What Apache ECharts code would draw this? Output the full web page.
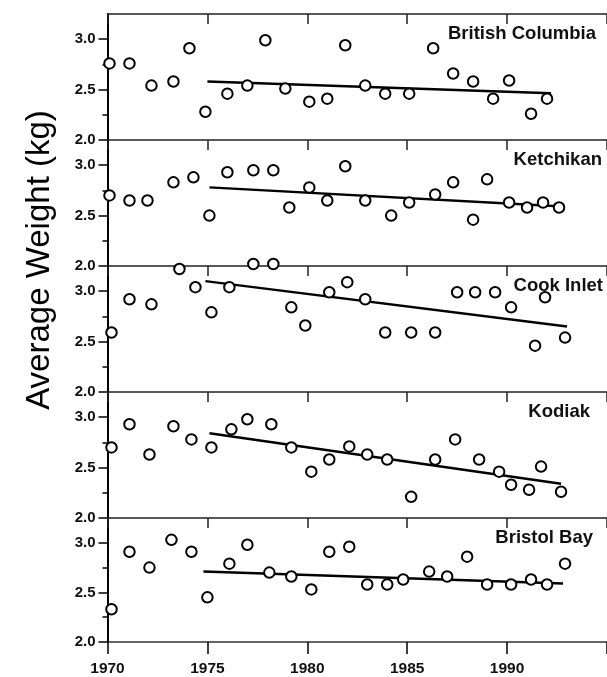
<!DOCTYPE html>
<html>
<head>
<meta charset="utf-8">
<script src="https://cdn.jsdelivr.net/npm/echarts@6/dist/echarts.min.js"></script>
<style>
html,body{margin:0;padding:0;background:#fff;}
#chart{width:607px;height:677px;}
</style>
</head>
<body>
<div id="chart"></div>
<script>
// ---- data ----
const panelNames = ["British Columbia", "Ketchikan", "Cook Inlet", "Kodiak", "Bristol Bay"];
const yearTicks = [1970, 1975, 1980, 1985, 1990];
const weightTicks = [2.0, 2.5, 3.0];
const weightMinorTicks = [2.25, 2.75];

const bcYears = [1970.1,1971.1,1972.2,1973.3,1974.1,1974.9,1976.0,1977.0,1977.9,1978.9,1980.1,1981.0,1981.9,1982.9,1983.9,1985.1,1986.3,1987.3,1988.3,1989.3,1990.1,1991.2,1992.0];
const bcWeights = [2.76,2.76,2.54,2.58,2.91,2.28,2.46,2.54,2.99,2.51,2.38,2.41,2.94,2.54,2.46,2.46,2.91,2.66,2.58,2.41,2.59,2.26,2.41];
const bcTrendYears = [1975.0, 1992.2];
const bcTrendWeights = [2.58, 2.465];

const ketYears = [1970.1,1971.1,1972.0,1973.3,1974.3,1975.1,1976.0,1977.3,1978.3,1979.1,1980.1,1981.0,1981.9,1982.9,1984.2,1985.1,1986.4,1987.3,1988.3,1989.0,1990.1,1991.0,1991.8,1992.6];
const ketWeights = [2.70,2.65,2.65,2.83,2.88,2.50,2.93,2.95,2.95,2.58,2.78,2.65,2.99,2.65,2.50,2.63,2.71,2.83,2.46,2.86,2.63,2.58,2.63,2.58];
const ketTrendYears = [1975.1, 1992.8];
const ketTrendWeights = [2.78, 2.59];

const cookYears = [1970.2,1971.1,1972.2,1973.6,1974.4,1975.2,1976.1,1977.3,1978.3,1979.2,1979.9,1981.1,1982.0,1982.9,1983.9,1985.2,1986.4,1987.5,1988.4,1989.4,1990.2,1991.4,1991.9,1992.9];
const cookWeights = [2.59,2.92,2.87,3.22,3.04,2.79,3.04,3.27,3.27,2.84,2.66,2.99,3.09,2.92,2.59,2.59,2.59,2.99,2.99,2.99,2.84,2.46,2.94,2.54];
const cookTrendYears = [1974.9, 1993.0];
const cookTrendWeights = [3.10, 2.65];

const kodYears = [1970.2,1971.1,1972.1,1973.3,1974.2,1975.2,1976.2,1977.0,1978.2,1979.2,1980.2,1981.1,1982.1,1983.0,1984.0,1985.2,1986.4,1987.4,1988.6,1989.6,1990.2,1991.1,1991.7,1992.7];
const kodWeights = [2.70,2.93,2.63,2.91,2.78,2.70,2.88,2.98,2.93,2.70,2.46,2.58,2.71,2.63,2.58,2.21,2.58,2.78,2.58,2.46,2.33,2.28,2.51,2.26];
const kodTrendYears = [1975.1, 1992.7];
const kodTrendWeights = [2.84, 2.34];

const bbYears = [1970.2,1971.1,1972.1,1973.2,1974.2,1975.0,1976.1,1977.0,1978.1,1979.2,1980.2,1981.1,1982.1,1983.0,1984.0,1984.8,1986.1,1987.0,1988.0,1989.0,1990.2,1991.2,1992.0,1992.9];
const bbWeights = [2.33,2.91,2.75,3.03,2.91,2.45,2.79,2.98,2.70,2.66,2.53,2.91,2.96,2.58,2.58,2.63,2.71,2.66,2.86,2.58,2.58,2.63,2.58,2.79];
const bbTrendYears = [1974.8, 1992.8];
const bbTrendWeights = [2.71, 2.59];

const pointsYears = [bcYears, ketYears, cookYears, kodYears, bbYears];
const pointsWeights = [bcWeights, ketWeights, cookWeights, kodWeights, bbWeights];
const trendYears = [bcTrendYears, ketTrendYears, cookTrendYears, kodTrendYears, bbTrendYears];
const trendWeights = [bcTrendWeights, ketTrendWeights, cookTrendWeights, kodTrendWeights, bbTrendWeights];

// ---- layout ----
const FONT = '"Liberation Sans", Arial, Helvetica, sans-serif';
const panelTop0 = 14, panelH = 126, gridLeft = 107.5;
const nameRightEdges = [596, 602, 603, 590, 593];

const chart = echarts.init(document.getElementById('chart'), null, {renderer: 'canvas'});

const grids = [], xAxes = [], yAxes = [], series = [], titles = [];
const zip = (a, b) => a.map((v, i) => [v, b[i]]);

for (let i = 0; i < 5; i++) {
  const top = panelTop0 + i * panelH;
  grids.push({left: gridLeft, right: 0, top: top, height: panelH, containLabel: false});
  // top boundary axis of the panel (ticks pointing down inside)
  xAxes.push({
    gridIndex: i, type: 'value', position: 'top', min: 1970, max: 1995, interval: 5,
    axisLine: {show: true, lineStyle: {color: '#222', width: 1.5}},
    axisTick: {show: true, inside: true, length: 10, lineStyle: {color: '#222', width: 1.5}},
    axisLabel: {show: false}, splitLine: {show: false}
  });
  // major y-axis
  yAxes.push({
    gridIndex: i, type: 'value', min: 2.0, max: 3.25, position: 'left',
    axisLine: {show: true, onZero: false, lineStyle: {color: '#000', width: 2}},
    axisTick: {show: true, length: 9, customValues: weightTicks, lineStyle: {color: '#000', width: 1.5}},
    axisLabel: {show: true, margin: 12, customValues: weightTicks,
      formatter: v => Number(v).toFixed(1),
      fontFamily: FONT, fontWeight: 'bold', fontSize: 15, color: '#111'},
    splitLine: {show: false}
  });
  // minor ticks
  yAxes.push({
    gridIndex: i, type: 'value', min: 2.0, max: 3.25, position: 'left',
    axisLine: {show: false},
    axisTick: {show: true, length: 5, customValues: weightMinorTicks, lineStyle: {color: '#000', width: 1.5}},
    axisLabel: {show: false}, splitLine: {show: false}
  });
  titles.push({
    text: panelNames[i], right: 607 - nameRightEdges[i], top: top + 10, padding: 0,
    textStyle: {fontFamily: FONT, fontWeight: 'bold', fontSize: 18.5, color: '#111'}
  });
  series.push({
    type: 'line', xAxisIndex: i, yAxisIndex: i * 2,
    data: zip(trendYears[i], trendWeights[i]), showSymbol: false, symbol: 'none',
    lineStyle: {color: '#000', width: 2.5}, z: 2, silent: true, animation: false
  });
  series.push({
    type: 'scatter', xAxisIndex: i, yAxisIndex: i * 2,
    data: zip(pointsYears[i], pointsWeights[i]), symbol: 'circle', symbolSize: 10.5,
    itemStyle: {color: '#fff', borderColor: '#000', borderWidth: 2, opacity: 1},
    clip: false, z: 3, animation: false
  });
}
// bottom x axis with year labels
xAxes.push({
  gridIndex: 4, type: 'value', position: 'bottom', min: 1970, max: 1995, interval: 5,
  axisLine: {show: true, onZero: false, lineStyle: {color: '#333', width: 1.5}},
  axisTick: {show: true, length: 12, lineStyle: {color: '#000', width: 1.5}},
  axisLabel: {show: true, margin: 19, customValues: yearTicks, formatter: v => String(Math.round(v)),
    fontFamily: FONT, fontWeight: 'bold', fontSize: 15.5, color: '#111'},
  splitLine: {show: false}
});

chart.setOption({
  backgroundColor: '#fff',
  animation: false,
  title: titles,
  grid: grids,
  xAxis: xAxes,
  yAxis: yAxes,
  series: series,
  graphic: [{
    type: 'text', x: 40, y: 260, rotation: Math.PI / 2,
    style: {text: 'Average Weight (kg)', font: '33px ' + FONT, fill: '#000', align: 'center', verticalAlign: 'middle'}
  }]
});
</script>
</body>
</html>
